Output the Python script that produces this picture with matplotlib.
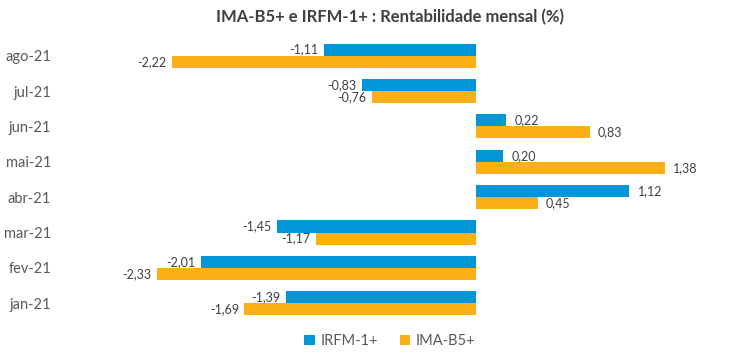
import matplotlib.pyplot as plt
import numpy as np

plt.rcParams['font.family'] = ['Lato', 'DejaVu Sans']

meses = ['jan-21', 'fev-21', 'mar-21', 'abr-21', 'mai-21', 'jun-21', 'jul-21', 'ago-21']
irfm = [-1.39, -2.01, -1.45, 1.12, 0.20, 0.22, -0.83, -1.11]
imab5 = [-1.69, -2.33, -1.17, 0.45, 1.38, 0.83, -0.76, -2.22]

azul = '#0096D8'
laranja = '#FDAF17'
cinza = '#595959'

fig = plt.figure(figsize=(7.5, 3.55), dpi=100)
ax = fig.add_axes([0.0867, 0.096, 0.895, 0.797])

y = np.arange(len(meses))
h = 0.34
b1 = ax.barh(y + h / 2, irfm, height=h, color=azul, label='IRFM-1+')
b2 = ax.barh(y - h / 2, imab5, height=h, color=laranja, label='IMA-B5+')

def fmt(v):
    return f'{v:.2f}'.replace('.', ',')

for bars, vals in ((b1, irfm), (b2, imab5)):
    for bar, v in zip(bars, vals):
        yc = bar.get_y() + bar.get_height() / 2
        if v < 0:
            ax.annotate(fmt(v), (v, yc), xytext=(-4, 0), textcoords='offset points',
                        ha='right', va='center', fontsize=9, color='#404040')
        else:
            ax.annotate(fmt(v), (v, yc), xytext=(6, 0), textcoords='offset points',
                        ha='left', va='center', fontsize=9, color='#404040')

ax.set_xlim(-3.0, 1.9)
ax.set_ylim(-0.5, 7.5)
ax.set_yticks(y)
ax.set_yticklabels(meses, fontsize=10.5, color=cinza)
ax.tick_params(axis='y', length=0, pad=10)
ax.set_xticks([])
for s in ax.spines.values():
    s.set_visible(False)

fig.suptitle('IMA-B5+ e IRFM-1+ : Rentabilidade mensal (%)', x=0.52, y=0.975,
             fontsize=12, fontweight='bold', color='#404040')

fig.legend(handles=[b1, b2], loc='center', bbox_to_anchor=(0.52, 0.04), ncol=2,
           frameon=False, fontsize=10.5, handlelength=0.7, handleheight=0.7,
           handletextpad=0.4, columnspacing=1.5, labelcolor=cinza)

fig.savefig('out.png', dpi=100)
